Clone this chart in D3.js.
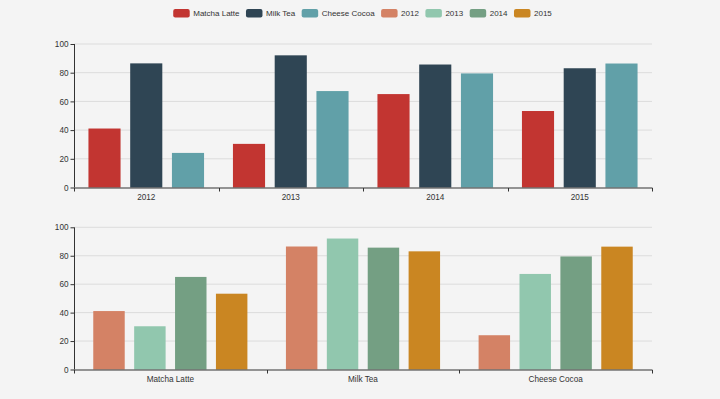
<!DOCTYPE html>
<html>
<head>
<meta charset="utf-8">
<script src="https://cdn.jsdelivr.net/npm/d3@7"></script>
<style>
	body { margin: 0; background: #f4f4f4; }
	svg { display: block; font-family: "Liberation Sans", Arial, sans-serif; }
</style>
</head>
<body>
<svg id="chart" width="720" height="399"></svg>
<script>
// data
let products = ['Matcha Latte', 'Milk Tea', 'Cheese Cocoa'];
let years = ['2012', '2013', '2014', '2015'];
let matchaLatte = [41.1, 30.4, 65.1, 53.3];
let milkTea = [86.5, 92.1, 85.7, 83.1];
let cheeseCocoa = [24.1, 67.2, 79.5, 86.4];
let yTicks = [0, 20, 40, 60, 80, 100];

let productColors = ['#c23531', '#2f4554', '#61a0a8'];
let yearColors = ['#d48265', '#91c7ae', '#749f83', '#ca8622'];

let byProduct = [matchaLatte, milkTea, cheeseCocoa];

let svg = d3.select('svg#chart');
let left = 74, right = 652;

// legend
var drawLegend = function () {
	let items = products.map((p, i) => ({ name: p, color: productColors[i] }))
		.concat(years.map((y, i) => ({ name: y, color: yearColors[i] })));
	let g = svg.append('g').attr('class', 'legend');
	let xPos = 0;
	items.forEach(function (d) {
		let item = g.append('g').attr('transform', 'translate(' + xPos + ',0)');
		item.append('rect')
			.attr('x', 0).attr('y', 9).attr('width', 16.5).attr('height', 8.5)
			.attr('rx', 2).attr('fill', d.color);
		let t = item.append('text')
			.attr('x', 20).attr('y', 16.2)
			.attr('font-size', 8).attr('fill', '#333')
			.text(d.name);
		xPos += 20 + t.node().getComputedTextLength() + 6.5;
	});
	let total = xPos - 6.5;
	g.attr('transform', 'translate(' + (362.5 - total / 2) + ',0)');
}

// one bar grid: categories on x, one group of series per category
var drawGrid = function (top, bottom, cats, series, colors) {
	let g = svg.append('g');
	let x = d3.scaleBand().domain(cats).range([left, right]).padding(0);
	let bw = x.bandwidth();
	let pi = 0.3 / 1.3;
	let xs = d3.scaleBand().domain(d3.range(series.length))
		.range([bw * 0.1, bw * 0.9]).paddingInner(pi).paddingOuter(0);
	let y = d3.scaleLinear([0, 100], [bottom, top]);

	// split lines
	g.append('g').selectAll('line')
		.data(yTicks.filter(d => d > 0))
		.join('line')
		.attr('x1', left).attr('x2', right)
		.attr('y1', d => y(d)).attr('y2', d => y(d))
		.attr('stroke', '#dcdcdc').attr('stroke-width', 1);

	// bars
	series.forEach(function (vals, si) {
		g.append('g').selectAll('rect')
			.data(vals)
			.join('rect')
			.attr('x', (d, i) => x(cats[i]) + xs(si))
			.attr('width', xs.bandwidth())
			.attr('y', d => y(d))
			.attr('height', d => y(0) - y(d))
			.attr('fill', colors[si]);
	});

	// y axis
	let ya = g.append('g')
		.attr('transform', 'translate(' + left + ',0)')
		.call(d3.axisLeft(y).tickValues(yTicks).tickSize(3.5).tickPadding(2));
	ya.select('.domain').attr('stroke', '#333').attr('d', 'M0.5,' + y(0) + 'V' + y(100));
	ya.selectAll('.tick line').attr('stroke', '#333');
	ya.selectAll('.tick text').attr('font-size', 8.2).attr('fill', '#333').attr('font-family', null);

	// x axis
	let xa = g.append('g').attr('transform', 'translate(0,' + bottom + ')');
	xa.append('line').attr('x1', left).attr('x2', right + 0.5)
		.attr('y1', 0.5).attr('y2', 0.5).attr('stroke', '#333');
	xa.selectAll('line.tk')
		.data(d3.range(cats.length + 1))
		.join('line')
		.attr('class', 'tk')
		.attr('x1', i => Math.round(left + i * bw) + 0.5)
		.attr('x2', i => Math.round(left + i * bw) + 0.5)
		.attr('y1', 0.5).attr('y2', 4)
		.attr('stroke', '#333');
	xa.selectAll('text')
		.data(cats)
		.join('text')
		.attr('x', d => x(d) + bw / 2)
		.attr('y', 12)
		.attr('text-anchor', 'middle')
		.attr('font-size', 8.2).attr('fill', '#333')
		.text(d => d);
}

drawLegend();
// top: years on x, product series
drawGrid(44, 187.5, years, byProduct, productColors);
// bottom: products on x, year series
let byYear = years.map((yr, i) => byProduct.map(p => p[i]));
drawGrid(227.3, 369.5, products, byYear, yearColors);
</script>
</body>
</html>
